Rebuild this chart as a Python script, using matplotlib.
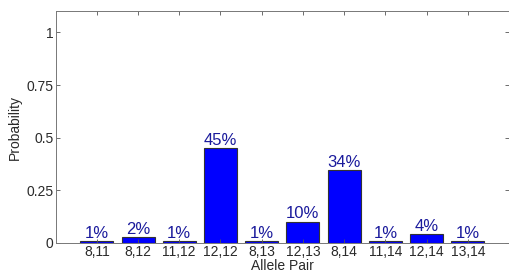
import matplotlib
matplotlib.use('Agg')
import matplotlib.pyplot as plt

plt.rcParams['font.family'] = ['Liberation Sans', 'DejaVu Sans']

pairs = ['8,11', '8,12', '11,12', '12,12', '8,13', '12,13', '8,14', '11,14', '12,14', '13,14']
probs = [0.008, 0.027, 0.008, 0.45, 0.008, 0.10, 0.345, 0.008, 0.04, 0.008]
pct_labels = ['1%', '2%', '1%', '45%', '1%', '10%', '34%', '1%', '4%', '1%']

fig = plt.figure(figsize=(5.1, 2.72), dpi=100)
ax = fig.add_axes([0.109, 0.107, 0.889, 0.851])

xs = list(range(1, len(pairs) + 1))
ax.bar(xs, probs, width=0.8, color='#0000ff', edgecolor='#333333', linewidth=0.8)

# percentage labels above each bar
for x, p, lab in zip(xs, probs, pct_labels):
    ax.annotate(lab, (x, p), xytext=(0, 0.5), textcoords='offset points',
                ha='center', va='bottom', fontsize=12, color='#1a1a9c')

ax.set_xlim(0, 11)
ax.set_ylim(0, 1.1)
ax.set_xticks(xs)
ax.set_xticklabels(pairs)
ax.set_yticks([0, 0.25, 0.5, 0.75, 1])
ax.set_yticklabels(['0', '0.25', '0.5', '0.75', '1'])
ax.tick_params(direction='in', top=True, right=True, length=3, width=0.6,
               color='#555555', labelsize=10, labelcolor='#2a2a2a', pad=1.5)
for s in ax.spines.values():
    s.set_color('#777777')
    s.set_linewidth(0.7)

ax.set_xlabel('Allele Pair', fontsize=10, color='#2a2a2a', labelpad=0)
ax.set_ylabel('Probability', fontsize=10, color='#2a2a2a', labelpad=3)

fig.savefig('out.png', dpi=100)
